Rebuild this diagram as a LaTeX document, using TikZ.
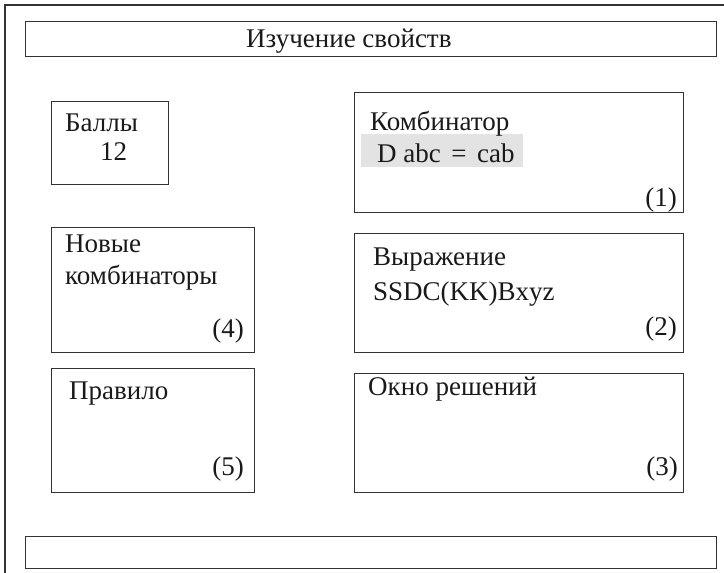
\documentclass[tikz,border=0pt]{standalone}
\usepackage{fontspec}
\setmainfont{Liberation Serif}
\begin{document}
\begin{tikzpicture}[x=1pt,y=-1pt,
  box/.style={draw=black!80,line width=1.1pt,inner sep=0pt,anchor=north west},
  txt/.style={inner sep=0pt,anchor=base west,font=\fontsize{27}{32}\selectfont,text=black!90},
  num/.style={inner sep=0pt,anchor=base east,font=\fontsize{27}{32}\selectfont,text=black!90}]
\useasboundingbox (0,0) rectangle (724,573);
% outer frame (open to right and bottom)
\draw[black!80,line width=1.4pt] (5,573) -- (5,5) -- (724,5);
% title bar
\node[box,minimum width=691pt,minimum height=35pt] (title) at (25,21) {};
\node[txt] (titletxt) at (246,47) {Изучение свойств};
% scores
\node[box,minimum width=117pt,minimum height=83pt] (score) at (51,101) {};
\node[txt] (scorelbl) at (65,131) {Баллы};
\node[txt] (scoreval) at (100,160) {12};
% combinator (1)
\node[box,minimum width=329pt,minimum height=120pt] (comb) at (354,92) {};
\node[fill=black!11,inner sep=0pt,minimum width=162pt,minimum height=33pt,anchor=north west] (combhl) at (361,134) {};
\node[txt] (comblbl) at (370,130) {Комбинатор};
\node[txt] (combdef) at (377,162) {D abc\hspace{10.5pt}=\hspace{10.5pt}cab};
\node[num] (n1) at (677,206) {(1)};
% new combinators (4)
\node[box,minimum width=203pt,minimum height=125pt] (newc) at (51,227) {};
\node[txt] (newlbl1) at (65,252) {Новые};
\node[txt] (newlbl2) at (65,284) {комбинаторы};
\node[num] (n4) at (244,337) {(4)};
% expression (2)
\node[box,minimum width=329pt,minimum height=119pt] (expr) at (354,233) {};
\node[txt] (exprlbl) at (373,265) {Выражение};
\node[txt] (exprval) at (373,300) {SSDC(KK)Bxyz};
\node[num] (n2) at (677,335) {(2)};
% rule (5)
\node[box,minimum width=203pt,minimum height=124pt] (rule) at (51,368) {};
\node[txt] (rulelbl) at (69,399) {Правило};
\node[num] (n5) at (244,475) {(5)};
% solutions (3)
\node[box,minimum width=329pt,minimum height=119pt] (sol) at (354,373) {};
\node[txt] (sollbl) at (368,395) {Окно решений};
\node[num] (n3) at (678,475) {(3)};
% bottom bar
\node[box,minimum width=691pt,minimum height=32pt] (bottom) at (25,536) {};
\end{tikzpicture}
\end{document}
